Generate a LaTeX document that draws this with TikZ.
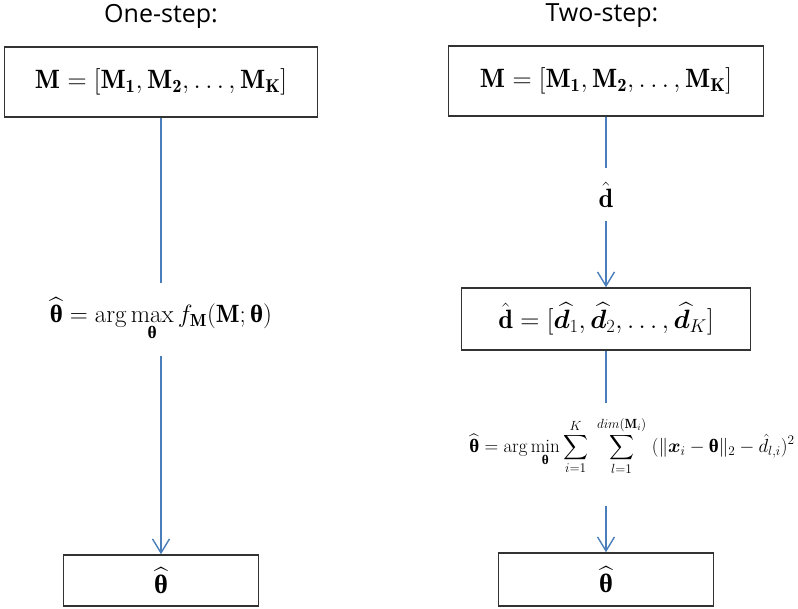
\RequirePackage{fix-cm}
\documentclass[tikz,border=0pt]{standalone}
\usepackage{amsmath,bm}
\usepackage{fontspec}
\newfontfamily\titlefont{Open Sans}
\newfontfamily\grkfont{Liberation Serif}
\newcommand{\bth}{\mathord{\text{\grkfont\bfseries θ}}}
\usetikzlibrary{arrows.meta}
\definecolor{connc}{HTML}{4A7EBB}
\definecolor{framec}{HTML}{333333}
\begin{document}
\begin{tikzpicture}[x=1pt,y=-1pt,
  box/.style={draw=framec,line width=1.5pt,inner sep=0pt,font=\fontsize{26.5}{31}\selectfont},
  titlenode/.style={font=\titlefont\fontsize{25}{30}\selectfont,inner sep=0pt},
  conn/.style={draw=connc,line width=1.4pt},
  arr/.style={conn,-{Straight Barb[length=14pt,width=17pt,line width=1.4pt]}},
  lbl/.style={inner sep=0pt}]
\useasboundingbox (0,0) rectangle (798,608);
% left column
\node[titlenode] (t1) at (161,16) {One-step:};
\node[box,minimum width=313pt,minimum height=70pt] (b1) at (161,82)
  {$\mathbf{M}=[\mathbf{M}_{\mathbf{1}},\mathbf{M}_{\mathbf{2}},\ldots,\mathbf{M}_{\mathbf{K}}]$};
\node[lbl,minimum height=73pt,font=\fontsize{25}{30}\selectfont] (l1) at (161,319.5)
  {$\displaystyle\widehat{\bth}=\arg\max_{\bth} f_{\mathbf{M}}(\mathbf{M};\bth)$};
\node[box,minimum width=195pt,minimum height=51pt] (b4) at (161,580.5) {$\widehat{\bth}$};
% right column
\node[titlenode] (t2) at (602,16) {Two-step:};
\node[box,minimum width=315pt,minimum height=70pt] (b2) at (606,81)
  {$\mathbf{M}=[\mathbf{M}_{\mathbf{1}},\mathbf{M}_{\mathbf{2}},\ldots,\mathbf{M}_{\mathbf{K}}]$};
\node[lbl,minimum height=53pt,font=\fontsize{26.5}{31}\selectfont] (dl) at (606,194.5) {$\hat{\mathbf{d}}$};
\node[box,minimum width=289pt,minimum height=62pt] (b3) at (606,319)
  {$\hat{\mathbf{d}}=[\widehat{\bm{d}}_1,\widehat{\bm{d}}_2,\ldots,\widehat{\bm{d}}_K]$};
\coordinate (g1) at (606,403);
\coordinate (g2) at (606,506);
\node[lbl,font=\fontsize{19}{23}\selectfont] (l2) at (632,446)
  {$\displaystyle\widehat{\bth}=\arg\min_{\bth}\sum_{i=1}^{K}\ \sum_{l=1}^{dim(\mathbf{M}_i)}\ (\|\bm{x}_i-\bth\|_2-\hat{d}_{l,i})^2$};
\node[box,minimum width=215pt,minimum height=53pt] (b5) at (606,579.5) {$\widehat{\bth}$};
% connectors
\draw[conn] (b1) -- (l1);
\draw[arr] (l1) -- (b4);
\draw[conn] (b2) -- (dl);
\draw[arr] (dl) -- (b3);
\draw[conn] (b3) -- (g1);
\draw[arr] (g2) -- (b5);
\end{tikzpicture}
\end{document}
